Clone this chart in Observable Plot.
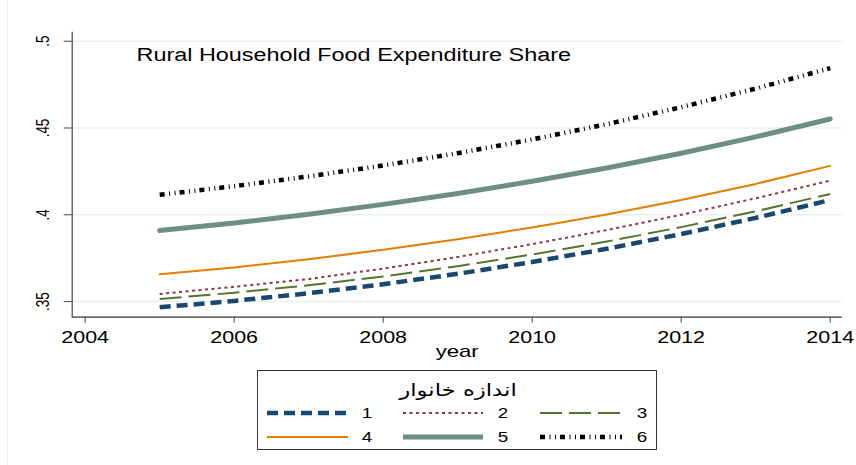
<!DOCTYPE html>
<html><head><meta charset="utf-8">
<script src="https://cdn.jsdelivr.net/npm/d3@7"></script>
<script src="https://cdn.jsdelivr.net/npm/@observablehq/plot@0.6"></script>
<style>
body{margin:0;background:#fff;font-family:"Liberation Sans",Arial,sans-serif;}
#wrap{position:relative;width:856px;height:465px;overflow:hidden;background:#fff;}
#edge{position:absolute;left:7px;top:0;width:1px;height:465px;background:#eceeee;}
#chart{position:absolute;left:0;top:0;}
#legend{position:absolute;left:257px;top:370px;}
</style></head><body>
<div id="wrap"><div id="edge"></div><div id="chart"></div><svg id="legend" width="400" height="80"></svg></div>
<script>
// ---- data ----
const years = [2005, 2006, 2007, 2008, 2009, 2010, 2011, 2012, 2013, 2014];
const size1 = [0.3467, 0.3504, 0.3548, 0.3600, 0.3660, 0.3728, 0.3804, 0.3889, 0.3982, 0.4085];
const size2 = [0.3544, 0.3585, 0.3630, 0.3690, 0.3757, 0.3831, 0.3912, 0.4000, 0.4095, 0.4197];
const size3 = [0.3515, 0.3551, 0.3594, 0.3645, 0.3704, 0.3771, 0.3846, 0.3929, 0.4020, 0.4120];
const size4 = [0.3657, 0.3697, 0.3744, 0.3798, 0.3859, 0.3927, 0.4002, 0.4085, 0.4178, 0.4282];
const size5 = [0.3909, 0.3953, 0.4003, 0.4060, 0.4123, 0.4193, 0.4270, 0.4355, 0.4449, 0.4552];
const size6 = [0.4115, 0.4165, 0.4221, 0.4284, 0.4355, 0.4434, 0.4522, 0.4620, 0.4727, 0.4845];
const seriesNames = ["1", "2", "3", "4", "5", "6"];
const xTicks = [2004, 2006, 2008, 2010, 2012, 2014];
const yTicks = [0.35, 0.4, 0.45, 0.5];
const chartTitle = "Rural Household Food Expenditure Share";
const xLabel = "year";
const legendTitle = "اندازه خانوار";

// ---- styles ----
const lineStyles = [
  {stroke: "#1a476f", strokeWidth: 4.5, strokeDasharray: "11,6", strokeLinecap: "butt"},
  {stroke: "#90353b", strokeWidth: 2, strokeDasharray: "3,3.5", strokeLinecap: "butt"},
  {stroke: "#55752f", strokeWidth: 2, strokeDasharray: "22,7", strokeLinecap: "butt"},
  {stroke: "#e37e00", strokeWidth: 2, strokeLinecap: "round"},
  {stroke: "#6e8e84", strokeWidth: 5, strokeLinecap: "round"},
  {stroke: "#000000", strokeWidth: 4.5, strokeDasharray: "5,4.5,1,4.5,1,4", strokeLinecap: "butt"}
];
const allSeries = [size1, size2, size3, size4, size5, size6];
const xDomain = [2003.826, 2014.161];
const yDomain = [0.341, 0.5052];
const fmtY = d => String(d).replace(/^0\./, ".");
const STRETCH = 1.3;

const lineMarks = allSeries.map((vals, k) =>
  Plot.line(years.map((yr, i) => ({year: yr, share: vals[i]})),
    {x: "year", y: "share", strokeLinejoin: "round", ...lineStyles[k]}));

const plot = Plot.plot({
  width: 856, height: 362,
  marginLeft: 71.7, marginRight: 14.3, marginTop: 31.7, marginBottom: 45.3,
  x: {domain: xDomain, axis: null},
  y: {domain: yDomain, axis: null},
  style: {fontFamily: "'Liberation Sans', Arial, sans-serif", background: "transparent", color: "#000"},
  marks: [
    Plot.gridY(yTicks, {stroke: "#e6eff1", strokeOpacity: 1, strokeWidth: 1.5}),
    ...lineMarks,
    Plot.ruleX([xDomain[0]], {stroke: "#444", strokeWidth: 1.2}),
    Plot.ruleY([yDomain[0]], {stroke: "#333", strokeWidth: 1.2}),
    Plot.axisY(yTicks, {tickSize: 8, tickFormat: () => "", stroke: "#444", label: null}),
    Plot.text(yTicks, {y: d => d, text: fmtY, frameAnchor: "left", dx: -29, rotate: -90,
      fontSize: 17.5, textAnchor: "middle", lineAnchor: "middle", fill: "#000"}),
    Plot.axisX(xTicks, {tickSize: 6, tickPadding: 8, tickFormat: "d", fontSize: 16.5,
      stroke: "#444", fill: "#000", label: null}),
    Plot.text([xLabel], {text: d => d, frameAnchor: "bottom", dy: 34, fontSize: 17,
      lineAnchor: "middle", fill: "#000"}),
    Plot.text([chartTitle], {text: d => d, frameAnchor: "top-left", dx: 64.3, dy: 23.3,
      textAnchor: "start", lineAnchor: "middle", fontSize: 18, fill: "#000"})
  ]
});
document.getElementById("chart").appendChild(plot);

function stretch(root, k) {
  root.querySelectorAll("text").forEach(t => {
    const len = t.getComputedTextLength();
    if (!len) return;
    const rotated = /rotate/.test(t.getAttribute("transform") || "");
    t.setAttribute("textLength", (rotated ? len / k : len * k).toFixed(2));
    t.setAttribute("lengthAdjust", "spacingAndGlyphs");
  });
}
stretch(plot, STRETCH);

// ---- legend ----
const lg = d3.select("#legend");
lg.append("rect").attr("x", 0.5).attr("y", 0.5).attr("width", 399).attr("height", 79)
  .attr("fill", "#fff").attr("stroke", "#333").attr("stroke-width", 1);
lg.append("text").attr("x", 201).attr("y", 26).attr("text-anchor", "middle")
  .attr("font-family", "'DejaVu Sans', sans-serif").attr("font-size", 17.5)
  .attr("direction", "rtl").attr("fill", "#000").text(legendTitle);
const cols = [{x0: 10, x1: 91, lx: 110}, {x0: 146, x1: 226, lx: 246}, {x0: 283, x1: 365, lx: 385}];
const rowsY = [43, 67];
seriesNames.forEach((name, k) => {
  const c = cols[k % 3], y = rowsY[Math.floor(k / 3)], s = lineStyles[k];
  lg.append("line").attr("x1", c.x0).attr("x2", c.x1).attr("y1", y).attr("y2", y)
    .attr("stroke", s.stroke).attr("stroke-width", s.strokeWidth)
    .attr("stroke-dasharray", s.strokeDasharray || null).attr("stroke-linecap", "butt");
  lg.append("text").attr("x", c.lx).attr("y", y).attr("dy", "0.36em").attr("text-anchor", "middle")
    .attr("font-family", "'Liberation Sans', Arial, sans-serif").attr("font-size", 14.5)
    .attr("fill", "#000").text(name);
});
stretch(document.getElementById("legend"), STRETCH);
</script>
</body></html>
